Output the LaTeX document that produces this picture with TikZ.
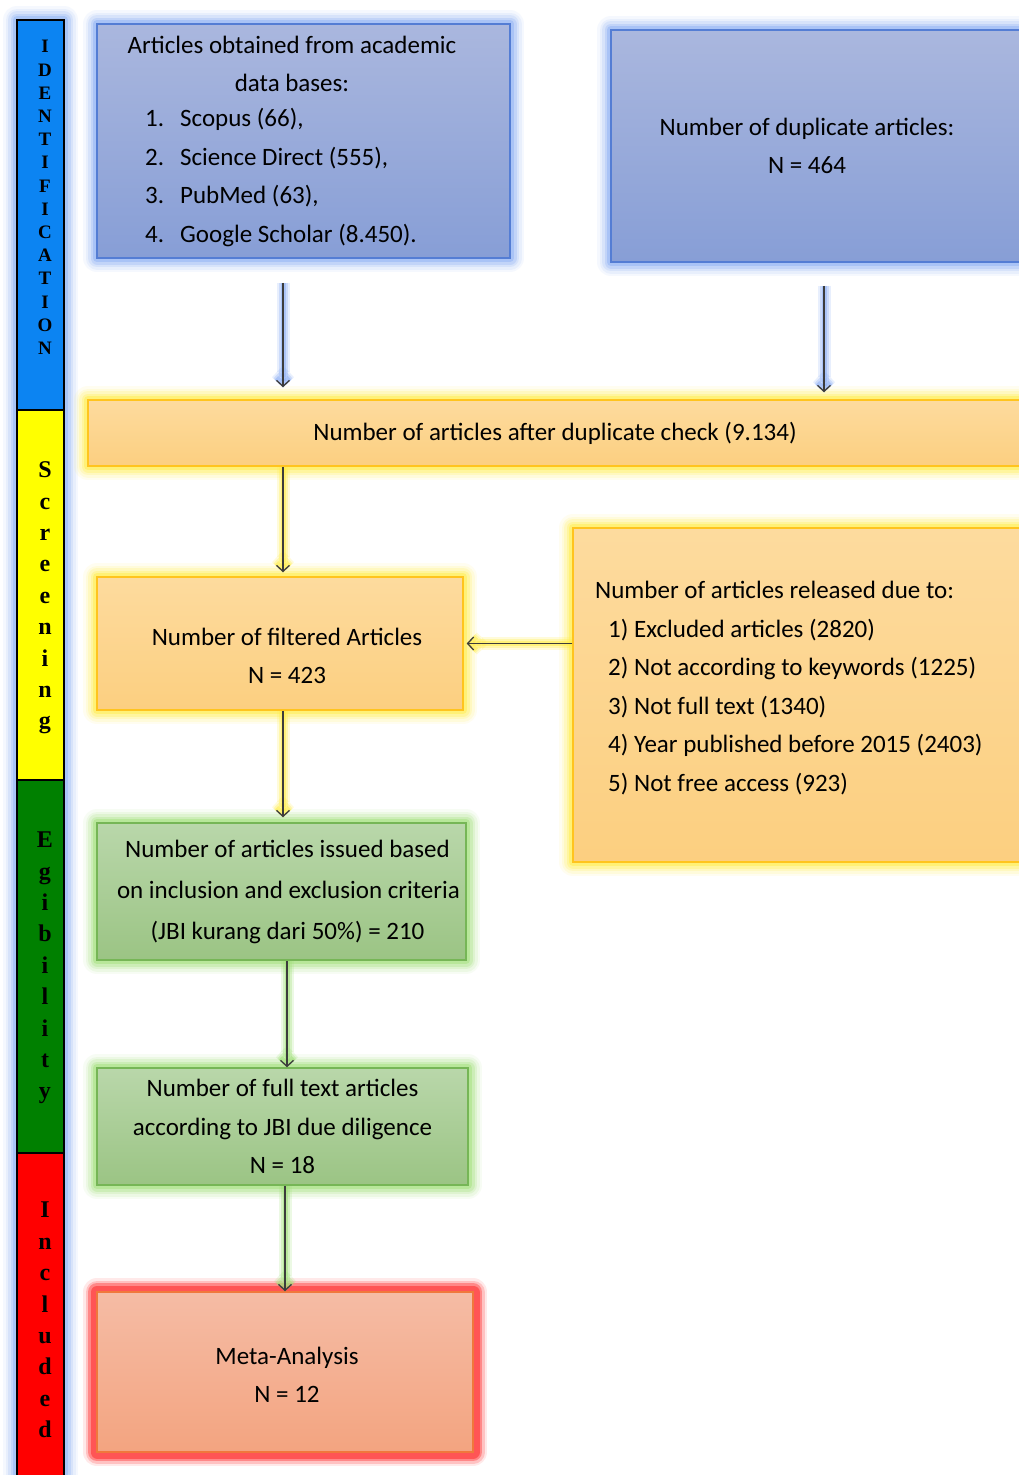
\documentclass[tikz,border=0pt]{standalone}
\usepackage{fontspec}
\setmainfont{Carlito}
\newfontfamily\sidefont{Liberation Serif}
\usetikzlibrary{arrows.meta}

\definecolor{sbBlue}{RGB}{12,132,242}
\definecolor{sbYellow}{RGB}{255,255,0}
\definecolor{sbGreen}{RGB}{0,128,0}
\definecolor{sbRed}{RGB}{255,0,0}
\definecolor{sideGlow}{RGB}{140,178,245}
\definecolor{blueTop}{RGB}{170,183,222}
\definecolor{blueBot}{RGB}{135,158,214}
\definecolor{blueDraw}{RGB}{84,125,212}
\definecolor{blueGlow}{RGB}{140,175,245}
\definecolor{orTop}{RGB}{253,219,158}
\definecolor{orBot}{RGB}{252,207,128}
\definecolor{orDraw}{RGB}{255,196,30}
\definecolor{orGlow}{RGB}{255,238,70}
\definecolor{grTop}{RGB}{185,215,170}
\definecolor{grBot}{RGB}{155,196,132}
\definecolor{grDraw}{RGB}{118,182,86}
\definecolor{grGlow}{RGB}{160,225,120}
\definecolor{rdTop}{RGB}{245,188,165}
\definecolor{rdBot}{RGB}{243,164,128}
\definecolor{rdDraw}{RGB}{240,120,60}
\definecolor{rdGlow}{RGB}{255,80,80}
\definecolor{arrCol}{RGB}{60,60,60}

\begin{document}
\begin{tikzpicture}[x=1pt,y=-1pt,
  glow/.style={
    preaction={draw=#1,line width=28pt,draw opacity=0.08,line join=round},
    preaction={draw=#1,line width=23pt,draw opacity=0.12,line join=round},
    preaction={draw=#1,line width=18pt,draw opacity=0.18,line join=round},
    preaction={draw=#1,line width=13pt,draw opacity=0.28,line join=round},
    preaction={draw=#1,line width=8pt,draw opacity=0.45,line join=round}},
  strongglow/.style={
    preaction={draw=#1,line width=28pt,draw opacity=0.12,line join=round},
    preaction={draw=#1,line width=23pt,draw opacity=0.25,line join=round},
    preaction={draw=#1,line width=18pt,draw opacity=0.5,line join=round},
    preaction={draw=#1,line width=13pt,draw opacity=0.9,line join=round}},
  aglow/.style={
    preaction={draw=#1,line width=13pt,draw opacity=0.2},
    preaction={draw=#1,line width=9pt,draw opacity=0.3},
    preaction={draw=#1,line width=5pt,draw opacity=0.5}},
  boxtext/.style={font=\fontsize{25}{38.5}\selectfont, inner sep=0pt},
  box/.style={rectangle, inner sep=0pt, align=center, boxtext},
  bluebox/.style={box, glow=blueGlow, top color=blueTop, bottom color=blueBot, draw=blueDraw, line width=1.5pt},
  orbox/.style={box, glow=orGlow, top color=orTop, bottom color=orBot, draw=orDraw, line width=1.5pt},
  grbox/.style={box, glow=grGlow, top color=grTop, bottom color=grBot, draw=grDraw, line width=1.5pt},
  rdbox/.style={box, strongglow=rdGlow, top color=rdTop, bottom color=rdBot, draw=rdDraw, line width=1.5pt},
  arr/.style={draw=arrCol, line width=1.3pt, -{Straight Barb[length=6pt,width=13pt]}},
  sidetext/.style={font=\sidefont\bfseries\fontsize{24}{31.4}\selectfont, align=center, inner sep=0pt}
]
\useasboundingbox (0,0) rectangle (1019,1475);
\fill[white] (0,0) rectangle (1019,1475);
\clip (0,0) rectangle (1019,1475);

% ---- side bar ----
\path[glow=sideGlow] (17,20) rectangle (64,1495);
\filldraw[fill=sbBlue, draw=black, line width=1.6pt] (17,20) rectangle (64,410);
\filldraw[fill=sbYellow, draw=black, line width=1.6pt] (17,410) rectangle (64,780);
\filldraw[fill=sbGreen, draw=black, line width=1.6pt] (17,780) rectangle (64,1153);
\filldraw[fill=sbRed, draw=black, line width=1.6pt] (17,1153) rectangle (64,1495);

\node[sidetext, font=\sidefont\bfseries\fontsize{19}{23.2}\selectfont] (sideI) at (45,197.5)
  {I\\D\\E\\N\\T\\I\\F\\I\\C\\A\\T\\I\\O\\N};
\node[sidetext] (sideS) at (45,598) {S\\c\\r\\e\\e\\n\\i\\n\\g};
\node[sidetext] (sideE) at (45,968) {E\\g\\i\\b\\i\\l\\i\\t\\y};
\node[sidetext] (sideN) at (45,1320) {I\\n\\c\\l\\u\\d\\e\\d};

% ---- boxes ----
\node[bluebox, minimum width=413pt, minimum height=234pt] (src) at (303.5,141) {};
\node[boxtext, align=center] (srcA) at (292,64) {Articles obtained from academic\\data bases:};
\node[boxtext, align=left, anchor=west] (srcB) at (145,177.5)
  {\makebox[35pt][l]{1.}Scopus (66),\\
   \makebox[35pt][l]{2.}Science Direct (555),\\
   \makebox[35pt][l]{3.}PubMed (63),\\
   \makebox[35pt][l]{4.}Google Scholar (8.450).};

\node[bluebox, minimum width=429pt, minimum height=232pt] (dup) at (825.5,146) {};
\node[boxtext, align=center] (dupT) at (807,146) {Number of duplicate articles:\\N = 464};

\node[orbox, minimum width=934pt, minimum height=66pt] (chk) at (555,433)
  {Number of articles after duplicate check (9.134)};

\node[orbox, minimum width=366pt, minimum height=133pt] (filt) at (280,643.5) {};
\node[boxtext, align=center] (filtT) at (287,656) {Number of filtered Articles\\N = 423};

\node[orbox, minimum width=467pt, minimum height=334pt] (rel) at (806.5,695) {};
\node[boxtext, align=left, anchor=west] (relT) at (595,688)
  {Number of articles released due to:\\
   \hspace*{13pt}1) Excluded articles (2820)\\
   \hspace*{13pt}2) Not according to keywords (1225)\\
   \hspace*{13pt}3) Not full text (1340)\\
   \hspace*{13pt}4) Year published before 2015 (2403)\\
   \hspace*{13pt}5) Not free access (923)};

\node[grbox, minimum width=369pt, minimum height=137pt, font=\fontsize{25}{41}\selectfont] (elig) at (281.5,891.5)
  {\hspace*{12pt}Number of articles issued based\\\hspace*{14pt}on inclusion and exclusion criteria\\\hspace*{12pt}(JBI kurang dari 50\%) = 210};

\node[grbox, minimum width=371pt, minimum height=117pt] (full) at (282.5,1126.5)
  {Number of full text articles\\according to JBI due diligence\\N = 18};

\node[rdbox, minimum width=376pt, minimum height=160pt] (meta) at (285,1372) {};
\node[boxtext, align=center] (metaT) at (287,1375) {Meta-Analysis\\N = 12};

% ---- connectors ----
\draw[arr, aglow=blueGlow, shorten <=24pt, shorten >=12pt]
  ([xshift=-20.5pt]src.south) -- ([xshift=-20.5pt]src.south |- chk.north);
\draw[arr, aglow=blueGlow, shorten <=23pt, shorten >=7pt]
  ([xshift=-1.5pt]dup.south) -- ([xshift=-1.5pt]dup.south |- chk.north);
\draw[arr, aglow=orGlow, shorten >=4pt]
  ([xshift=3pt]filt.north |- chk.south) -- ([xshift=3pt]filt.north);
\draw[arr, aglow=orGlow, shorten >=5pt]
  ([xshift=3pt]filt.south) -- ([xshift=3pt]filt.south |- elig.north);
\draw[arr, aglow=grGlow]
  ([xshift=5.5pt]elig.south) -- ([xshift=5.5pt]elig.south |- full.north);
\draw[arr, aglow=grGlow]
  ([xshift=2.5pt]full.south) -- ([xshift=2.5pt]full.south |- meta.north);
\draw[arr, aglow=orGlow, shorten >=3pt]
  (rel.west |- filt.east) -- (filt.east);
\end{tikzpicture}
\end{document}
